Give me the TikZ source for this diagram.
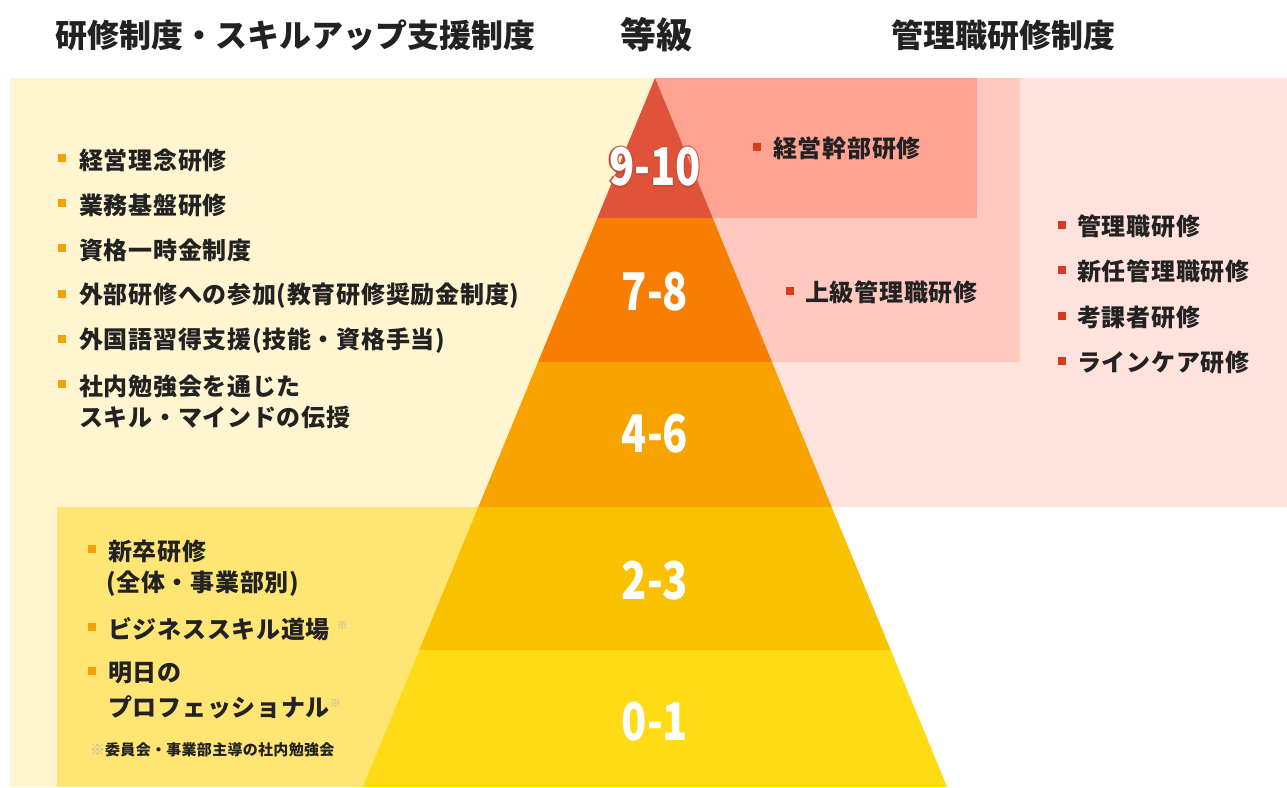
\documentclass[tikz,border=0pt]{standalone}
\usepackage{fontspec}
\setmainfont{Noto Sans CJK JP}
\definecolor{lemon}{HTML}{FFF6D1}
\definecolor{yeltwo}{HTML}{FFE674}
\definecolor{tierA}{HTML}{E0533A}
\definecolor{tierB}{HTML}{F77E00}
\definecolor{tierC}{HTML}{F8A300}
\definecolor{tierD}{HTML}{F9C100}
\definecolor{tierE}{HTML}{FEDB14}
\definecolor{pkA}{HTML}{FFA393}
\definecolor{pkB}{HTML}{FFC9BF}
\definecolor{pkC}{HTML}{FFE2DC}
\definecolor{bulO}{HTML}{F5A200}
\definecolor{bulR}{HTML}{D63B1F}
\definecolor{ink}{HTML}{222222}
\definecolor{outl}{HTML}{C04A34}
\tikzset{
  hdr/.style={inner sep=0pt, text=ink, font=\bfseries\fontsize{32}{35}\selectfont},
  item/.style={inner sep=0pt, anchor=west, text=ink, font=\bfseries\fontsize{24}{28}\selectfont\addfontfeature{LetterSpace=3}},
  bulo/.style={fill=bulO, inner sep=0pt, minimum size=8pt, draw=none, rectangle},
  bulr/.style={fill=bulR, inner sep=0pt, minimum size=8pt, draw=none, rectangle},
  num/.style={inner sep=0pt, text=white, font=\bfseries\fontsize{52}{56}\selectfont},
  numo/.style={inner sep=0pt, text=outl, font=\bfseries\fontsize{52}{56}\selectfont},
  note/.style={inner sep=0pt, anchor=west, text=ink, font=\bfseries\fontsize{15}{17}\selectfont\addfontfeature{LetterSpace=2}}
}
\newcommand{\nm}[1]{\scalebox{0.8}[1]{#1}}
\newcommand{\kome}{\raisebox{9pt}{\fontsize{11}{12}\selectfont\mdseries\color{gray!60}※}}
\begin{document}
\begin{tikzpicture}[x=1pt,y=-1pt]
\useasboundingbox (0,0) rectangle (1287,787);
\fill[white] (0,0) rectangle (1287,787);
% backgrounds
\fill[lemon] (10,78) rectangle (655,787);
\fill[yeltwo] (57,507) rectangle (655,787);
\fill[pkC] (655,78) rectangle (1287,507);
\fill[pkB] (655,78) rectangle (1020,362);
\fill[pkA] (655,78) rectangle (977,218);
% pyramid
\fill[tierA] (655,78) -- (712.7,218) -- (597.3,218) -- cycle;
\fill[tierB] (597.3,218) -- (712.7,218) -- (772,362) -- (538,362) -- cycle;
\fill[tierC] (538,362) -- (772,362) -- (831.7,507) -- (478.3,507) -- cycle;
\fill[tierD] (478.3,507) -- (831.7,507) -- (890.7,650) -- (419.3,650) -- cycle;
\fill[tierE] (419.3,650) -- (890.7,650) -- (947.1,787) -- (362.9,787) -- cycle;
% headers
\node[hdr] (h1) at (295,35) {研修制度・スキルアップ支援制度};
\node[hdr, font=\bfseries\fontsize{36}{40}\selectfont] (h2) at (656,35) {等級};
\node[hdr] (h3) at (1003,35) {管理職研修制度};
% tier numbers
\foreach \dx/\dy in {-1.2/0,1.2/0,0/-1.2,0/1.2}
  \node[numo] at (655+\dx,167+\dy) {\nm{9-10}};
\node[num] (n1) at (655,167) {\nm{9-10}};
\node[num] (n2) at (655,292) {\nm{7-8}};
\node[num] (n3) at (655,434) {\nm{4-6}};
\node[num] (n4) at (655,581) {\nm{2-3}};
\node[num] (n5) at (655,722) {\nm{0-1}};
% left list
\node[bulo] (lb1) at (62,158) {};
\node[item] (l1) at (79,160) {経営理念研修};
\node[bulo] (lb2) at (62,203) {};
\node[item] (l2) at (79,205) {業務基盤研修};
\node[bulo] (lb3) at (62,248) {};
\node[item] (l3) at (79,250) {資格一時金制度};
\node[bulo] (lb4) at (62,294) {};
\node[item] (l4) at (79,296) {外部研修への参加(教育研修奨励金制度)};
\node[bulo] (lb5) at (62,339) {};
\node[item] (l5) at (79,341) {外国語習得支援(技能・資格手当)};
\node[bulo] (lb6) at (62,384) {};
\node[item] (l6) at (79,386) {社内勉強会を通じた};
\node[item] (l7) at (79,417) {スキル・マインドの伝授};
% bottom-left list
\node[bulo] (bb1) at (92,549) {};
\node[item] (b1) at (108,551) {新卒研修};
\node[item] (b2) at (106,584) {(全体・事業部別)};
\node[bulo] (bb2) at (92,627) {};
\node[item] (b3) at (108,629) {ビジネススキル道場\hspace{7pt}\kome};
\node[bulo] (bb3) at (92,671) {};
\node[item] (b4) at (108,673) {明日の};
\node[item] (b5) at (108,707) {プロフェッショナル\kome};
\node[note] (fn) at (90,750) {{\color{gray!60}※}委員会・事業部主導の社内勉強会};
% right boxes
\node[bulr] (rb1) at (757,147) {};
\node[item] (r1) at (773,148) {経営幹部研修};
\node[bulr] (rb2) at (790,291) {};
\node[item] (r2) at (805,292) {上級管理職研修};
\node[bulr] (rb3) at (1062,225) {};
\node[item] (r3) at (1077,226) {管理職研修};
\node[bulr] (rb4) at (1062,270) {};
\node[item] (r4) at (1077,271) {新任管理職研修};
\node[bulr] (rb5) at (1062,316) {};
\node[item] (r5) at (1077,317) {考課者研修};
\node[bulr] (rb6) at (1062,361) {};
\node[item] (r6) at (1077,362) {ラインケア研修};
\end{tikzpicture}
\end{document}
